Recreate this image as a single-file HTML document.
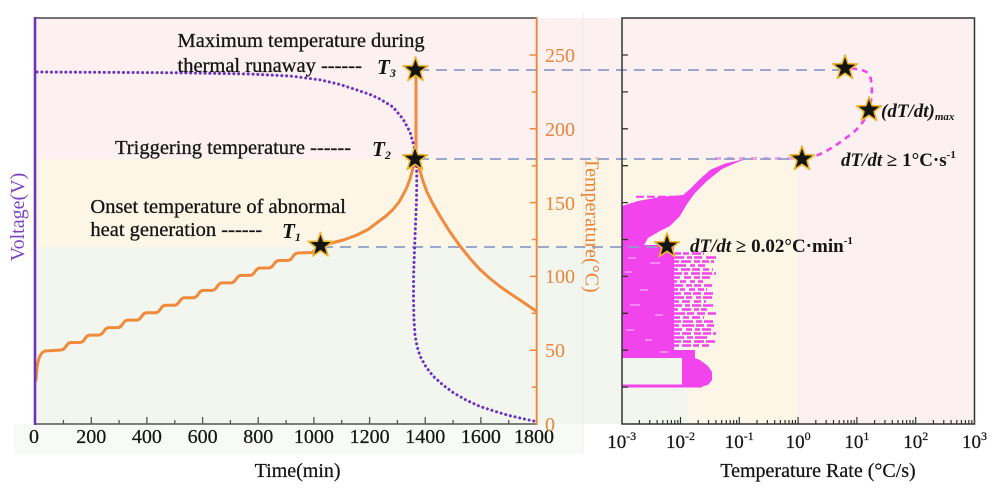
<!DOCTYPE html>
<html>
<head>
<meta charset="utf-8">
<style>
html,body{margin:0;padding:0;background:#ffffff;width:1000px;height:500px;overflow:hidden}
svg{display:block}
</style>
</head>
<body>
<svg width="1000" height="500" viewBox="0 0 1000 500" xmlns="http://www.w3.org/2000/svg" font-family="'Liberation Serif', 'DejaVu Serif', serif">
<defs>
<path id="star" d="M0,-13 L3.12,-4.29 L12.36,-4.02 L5.04,1.64 L7.64,10.52 L0,5.3 L-7.64,10.52 L-5.04,1.64 L-12.36,-4.02 L-3.12,-4.29Z"/>
</defs>

<!-- backgrounds left -->
<rect x="14" y="424" width="569" height="30" fill="#f8faf7"/>
<rect x="35" y="18" width="587" height="141" fill="#fcf0f0"/>
<rect x="35" y="159" width="587" height="88" fill="#fdf6e6"/>
<rect x="35" y="247" width="587" height="177" fill="#f2f6ef"/>
<line x1="583" y1="12" x2="583" y2="454" stroke="#eceee9" stroke-width="1"/>
<!-- backgrounds right -->
<rect x="622" y="18" width="353" height="406" fill="#fcf0f0"/>
<rect x="622" y="159" width="176" height="265" fill="#fdf6e6"/>
<rect x="622" y="247" width="66" height="177" fill="#f2f6ef"/>

<!-- magenta data -->
<g fill="#f244ec">
<polygon points="745,159.5 741,160 725,163.5 710,170 700,179 690,189 683,195 660,197 638,201 622,206 622,247 643,247 648,238 660,231 670,226 680,216 687,204 695,193 707,181 722,169 738,162"/>
<rect x="622" y="245" width="52" height="112"/>
<rect x="622" y="350" width="73" height="8"/>
<polygon points="682,357 692,357 700,360 708,366 712,372 712,380 708,385 700,387 682,387"/>
<rect x="622" y="384.5" width="80" height="3"/>
</g>
<g stroke="#f244ec" stroke-width="2.4" fill="none">
<line x1="672" y1="253.5" x2="704" y2="253.5" stroke-dasharray="9 2 6 3"/>
<line x1="672" y1="257.5" x2="716" y2="257.5" stroke-dasharray="12 3 5 2 8 4"/>
<line x1="672" y1="261.5" x2="714" y2="261.5" stroke-dasharray="7 2 10 3 6 2"/>
<line x1="672" y1="265.5" x2="705" y2="265.5" stroke-dasharray="14 4 5 3"/>
<line x1="672" y1="269.5" x2="713" y2="269.5" stroke-dasharray="6 3 9 2 8 3"/>
<line x1="672" y1="273.5" x2="716" y2="273.5" stroke-dasharray="10 2 4 3 9 2"/>
<line x1="672" y1="277.5" x2="710" y2="277.5" stroke-dasharray="8 4 7 3 6 2"/>
<line x1="672" y1="281.5" x2="703" y2="281.5" stroke-dasharray="5 3 6 4"/>
<line x1="672" y1="285.5" x2="712" y2="285.5" stroke-dasharray="11 3 6 2 7 3"/>
<line x1="672" y1="289.5" x2="707" y2="289.5" stroke-dasharray="6 2 5 4 6 3"/>
<line x1="672" y1="293.5" x2="715" y2="293.5" stroke-dasharray="9 3 7 2 8 3"/>
<line x1="672" y1="297.5" x2="712" y2="297.5" stroke-dasharray="12 2 6 4 5 2"/>
<line x1="672" y1="301.5" x2="706" y2="301.5" stroke-dasharray="7 3 8 4"/>
<line x1="672" y1="305.5" x2="714" y2="305.5" stroke-dasharray="10 3 5 2 9 2"/>
<line x1="672" y1="309.5" x2="710" y2="309.5" stroke-dasharray="6 4 9 3 5 2"/>
<line x1="672" y1="313.5" x2="716" y2="313.5" stroke-dasharray="13 2 7 3 8 3"/>
<line x1="672" y1="317.5" x2="704" y2="317.5" stroke-dasharray="8 3 6 3"/>
<line x1="672" y1="321.5" x2="713" y2="321.5" stroke-dasharray="9 2 10 3 6 2"/>
<line x1="672" y1="325.5" x2="715" y2="325.5" stroke-dasharray="7 3 12 2 8 3"/>
<line x1="672" y1="329.5" x2="711" y2="329.5" stroke-dasharray="10 4 6 3 5 2"/>
<line x1="672" y1="333.5" x2="716" y2="333.5" stroke-dasharray="8 2 9 3 7 2"/>
<line x1="672" y1="337.5" x2="709" y2="337.5" stroke-dasharray="12 3 6 2"/>
<line x1="672" y1="341.5" x2="715" y2="341.5" stroke-dasharray="9 2 8 3 10 2"/>
<line x1="672" y1="345.5" x2="712" y2="345.5" stroke-dasharray="7 3 9 2 6 3"/>
</g>
<g stroke="#ffffff" stroke-width="1" opacity="0.7">
<line x1="628" y1="258" x2="636" y2="258"/>
<line x1="650" y1="263" x2="660" y2="263"/>
<line x1="625" y1="272" x2="632" y2="272"/>
<line x1="640" y1="290" x2="648" y2="290"/>
<line x1="630" y1="305" x2="640" y2="305"/>
<line x1="655" y1="315" x2="663" y2="315"/>
<line x1="626" y1="330" x2="634" y2="330"/>
<line x1="645" y1="340" x2="652" y2="340"/>
<line x1="660" y1="352" x2="668" y2="352"/>
</g>
<line x1="636" y1="196.7" x2="682" y2="196.7" stroke="#f244ec" stroke-width="2" stroke-dasharray="8 3"/>
<line x1="715" y1="158.5" x2="796" y2="158.5" stroke="#f2a2ea" stroke-width="3" stroke-dasharray="6 6"/>
<path d="M806,158.5 C822,156 840,143 855,131 C862,124 867,117 869,110 C872,100 873,85 870,76 C868,71 862,69 846,68" fill="none" stroke="#f244ec" stroke-width="2.6" stroke-dasharray="6 5"/>

<!-- dashed reference lines -->
<g stroke="#8f9cc6" stroke-width="1.8" stroke-dasharray="11 7" fill="none">
<line x1="418" y1="70" x2="845" y2="70"/>
<line x1="418" y1="159" x2="802" y2="159"/>
<line x1="322" y1="247" x2="667" y2="247"/>
</g>

<!-- temperature curve -->
<path fill="none" stroke="#f08a3c" stroke-width="3" stroke-linejoin="round" stroke-linecap="round" d="M36,380 C37,362 39,353 45,351 L61,350 C66,350 66,342.54 71,342.54 L79.9,342.54 C84.9,342.54 84.9,335.08 89.9,335.08 L98.8,335.08 C103.8,335.08 103.8,327.62 108.8,327.62 L117.7,327.62 C122.7,327.62 122.7,320.16 127.7,320.16 L136.6,320.16 C141.6,320.16 141.6,312.7 146.6,312.7 L155.5,312.7 C160.5,312.7 160.5,305.24 165.5,305.24 L174.4,305.24 C179.4,305.24 179.4,297.78 184.4,297.78 L193.3,297.78 C198.3,297.78 198.3,290.32 203.3,290.32 L212.2,290.32 C217.2,290.32 217.2,282.86 222.2,282.86 L231.1,282.86 C236.1,282.86 236.1,275.4 241.1,275.4 L250,275.4 C255,275.4 255,267.94 260,267.94 L268.9,267.94 C273.9,267.94 273.9,260.48 278.9,260.48 L287.8,260.48 C292.8,260.48 292.8,253.02 297.8,253.02 L312,252.5 L320,246.5 L330,243.5 L345,239.5 L357,235 L368,229.5 L378,222 L386,216 L393,209.5 L399,202 L403,195 L407,187 L410,179 L412.5,170 L414.5,163 L416,158 L416,70 L416,160 L418,166 L420,171 L423,181 L427,192 L433,204 L440,216 L450,232 L460,246 L470,258.5 L480,269.5 L490,278.5 L500,286.5 L510,293.5 L520,300 L528,305.5 L536,311"/>

<!-- voltage dotted curve -->
<polyline fill="none" stroke="#6a33c0" stroke-width="3" stroke-linecap="round" stroke-dasharray="0.1 4.7" points="37,72 100,72.3 180,72.8 250,74 290,76 321,80 340,84.5 357,90 370,94.5 380,99 393,107 403,119 410,132 414,146 416.5,162 416.8,180 416.5,200 415.5,225 414.5,250 413.6,275 413.5,300 414,320 415,335 417,346 420,356 426,367 433,376 443,385 453,392.5 466,400 480,406.5 494,411 507,415 522,418.5 536,421.5"/>

<!-- left axes -->
<line x1="35" y1="18" x2="537" y2="18" stroke="#444" stroke-width="1.5"/>
<line x1="35" y1="424" x2="537" y2="424" stroke="#555" stroke-width="1.6"/>
<line x1="35" y1="17" x2="35" y2="425" stroke="#6d35b5" stroke-width="2.6"/>
<line x1="536.7" y1="17" x2="536.7" y2="425" stroke="#f08a3c" stroke-width="2"/>
<path stroke="#555" stroke-width="1.3" fill="none" d="M91.3,424v-7 M146.9,424v-7 M202.6,424v-7 M258.2,424v-7 M313.9,424v-7 M369.6,424v-7 M425.2,424v-7 M480.9,424v-7 M63.4,424v-4 M119.1,424v-4 M174.8,424v-4 M230.4,424v-4 M286.1,424v-4 M341.7,424v-4 M397.4,424v-4 M453.1,424v-4 M508.7,424v-4"/>
<path stroke="#f08a3c" stroke-width="1.5" fill="none" d="M536.7,55h-7 M536.7,128.8h-7 M536.7,202.6h-7 M536.7,276.4h-7 M536.7,350.2h-7 M536.7,91.9h-5 M536.7,165.7h-5 M536.7,239.5h-5 M536.7,313.3h-5 M536.7,387.1h-5"/>

<!-- right axes -->
<rect x="622" y="18" width="352.5" height="406" fill="none" stroke="#333" stroke-width="1.5"/>
<path stroke="#333" stroke-width="1.3" fill="none" d="M622,387.1h6 M622,350.2h6 M622,313.3h6 M622,276.4h6 M622,239.5h6 M622,202.6h6 M622,165.7h6 M622,128.8h6 M622,91.9h6 M622,55h6"/>
<path stroke="#333" stroke-width="1.2" fill="none" d="M680.5,424v-7 M739.3,424v-7 M798.1,424v-7 M856.9,424v-7 M915.7,424v-7
M639.4,424v-4 M649.75,424v-4 M657.1,424v-4 M662.8,424v-4 M667.45,424v-4 M671.4,424v-4 M674.8,424v-4 M677.8,424v-4
M698.2,424v-4 M708.55,424v-4 M715.9,424v-4 M721.6,424v-4 M726.25,424v-4 M730.2,424v-4 M733.6,424v-4 M736.6,424v-4
M757,424v-4 M767.35,424v-4 M774.7,424v-4 M780.4,424v-4 M785.05,424v-4 M789,424v-4 M792.4,424v-4 M795.4,424v-4
M815.8,424v-4 M826.15,424v-4 M833.5,424v-4 M839.2,424v-4 M843.85,424v-4 M847.8,424v-4 M851.2,424v-4 M854.2,424v-4
M874.6,424v-4 M884.95,424v-4 M892.3,424v-4 M898,424v-4 M902.65,424v-4 M906.6,424v-4 M910,424v-4 M913,424v-4
M933.4,424v-4 M943.75,424v-4 M951.1,424v-4 M956.8,424v-4 M961.45,424v-4 M965.4,424v-4 M968.8,424v-4 M971.8,424v-4"/>

<!-- stars -->
<g fill="#141410" stroke="#edb52f" stroke-width="1.6" stroke-linejoin="round">
<use href="#star" x="320.5" y="245.5"/>
<use href="#star" x="415" y="159"/>
<use href="#star" x="415.5" y="70"/>
<use href="#star" x="845" y="68"/>
<use href="#star" x="869" y="110"/>
<use href="#star" x="802" y="159"/>
<use href="#star" x="667" y="246"/>
</g>

<!-- annotation text left -->
<g font-size="20.5" fill="#151515" stroke="#151515" stroke-width="0.3">
<text x="177.5" y="47">Maximum temperature during</text>
<text x="177.5" y="72">thermal runaway ------</text>
<text x="115" y="154">Triggering temperature ------</text>
<text x="90.4" y="213">Onset temperature of abnormal</text>
<text x="90.4" y="236">heat generation ------</text>
</g>
<g font-size="21" font-weight="bold" font-style="italic" fill="#151515">
<text x="377" y="74">T<tspan font-size="12" dy="3">3</tspan></text>
<text x="372" y="156">T<tspan font-size="12" dy="3">2</tspan></text>
<text x="282" y="238">T<tspan font-size="12" dy="3">1</tspan></text>
</g>

<!-- annotation text right -->
<g font-size="19" font-weight="bold" fill="#151515">
<text x="881" y="117" font-style="italic">(dT/dt)<tspan font-size="11" dy="3">max</tspan></text>
<text x="841" y="166"><tspan font-style="italic">dT/dt</tspan> ≥ 1°C·s<tspan font-size="11" dy="-8">-1</tspan></text>
<text x="690" y="252"><tspan font-style="italic">dT/dt</tspan> ≥ 0.02°C·min<tspan font-size="11" dy="-8">-1</tspan></text>
</g>

<!-- left tick labels -->
<g font-size="20" fill="#151515" text-anchor="middle" stroke="#151515" stroke-width="0.25">
<text x="34" y="443">0</text>
<text x="91.3" y="443">200</text>
<text x="146.9" y="443">400</text>
<text x="202.6" y="443">600</text>
<text x="258.2" y="443">800</text>
<text x="313.9" y="443">1000</text>
<text x="369.6" y="443">1200</text>
<text x="425.2" y="443">1400</text>
<text x="480.9" y="443">1600</text>
<text x="534" y="443">1800</text>
<text x="297.6" y="477">Time(min)</text>
<text x="818" y="477">Temperature Rate (°C/s)</text>
</g>
<g font-size="20" fill="#e8843c">
<text x="545" y="62">250</text>
<text x="545" y="136">200</text>
<text x="545" y="210">150</text>
<text x="545" y="283">100</text>
<text x="545" y="357">50</text>
<text x="545" y="431">0</text>
<text transform="translate(585.5,225) rotate(90)" text-anchor="middle">Temperature(°C)</text>
</g>
<text transform="translate(24,217) rotate(-90)" text-anchor="middle" font-size="20" fill="#7b45c4">Voltage(V)</text>

<!-- right tick labels -->
<g font-size="19" fill="#151515" text-anchor="middle" stroke="#151515" stroke-width="0.25">
<text x="621.7" y="448">10<tspan font-size="12" dy="-8">-3</tspan></text>
<text x="680.5" y="448">10<tspan font-size="12" dy="-8">-2</tspan></text>
<text x="739.3" y="448">10<tspan font-size="12" dy="-8">-1</tspan></text>
<text x="798.1" y="448">10<tspan font-size="12" dy="-8">0</tspan></text>
<text x="856.9" y="448">10<tspan font-size="12" dy="-8">1</tspan></text>
<text x="915.7" y="448">10<tspan font-size="12" dy="-8">2</tspan></text>
<text x="974.5" y="448">10<tspan font-size="12" dy="-8">3</tspan></text>
</g>
</svg>
</body>
</html>
